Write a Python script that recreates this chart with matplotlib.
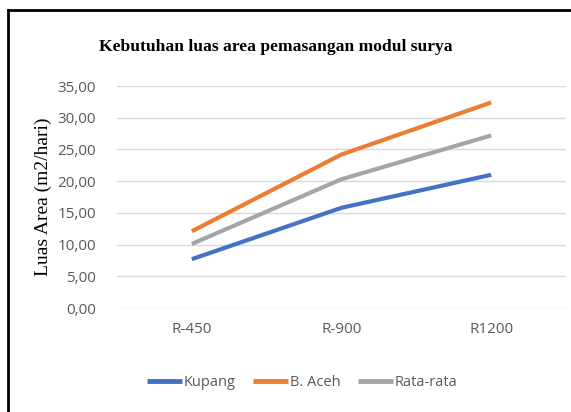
import matplotlib
matplotlib.use("Agg")
import matplotlib.pyplot as plt
from matplotlib.lines import Line2D

categories = ["R-450", "R-900", "R1200"]
kupang = [7.7, 15.8, 21.0]
aceh = [12.1, 24.2, 32.4]
rata = [10.1, 20.3, 27.2]
yticks = [0, 5, 10, 15, 20, 25, 30, 35]

sans = ["Liberation Sans Narrow", "Open Sans", "DejaVu Sans"]
serif = ["Liberation Serif", "DejaVu Serif"]

fig = plt.figure(figsize=(5.71, 4.12), dpi=100)
ax = fig.add_axes([117/571, 1-308/412, 449/571, 222/412])

x = range(len(categories))
ax.plot(x, kupang, color="#4472C4", lw=3, solid_capstyle="butt", label="Kupang")
ax.plot(x, aceh, color="#ED7D31", lw=3, solid_capstyle="butt", label="B. Aceh")
ax.plot(x, rata, color="#A5A5A5", lw=3, solid_capstyle="butt", label="Rata-rata")

ax.set_xlim(-0.5, 2.5)
ax.set_ylim(0, 35)
ax.set_yticks(yticks)
ax.set_yticklabels([f"{v:.2f}".replace(".", ",") for v in yticks],
                   family=sans, fontsize=11, color="#595959")
ax.set_xticks(list(x))
ax.set_xticklabels(categories, family=sans, fontsize=11, color="#595959")
ax.tick_params(length=0, pad=15, axis="y")
ax.tick_params(length=0, pad=10, axis="x")
ax.grid(axis="y", color="#d9d9d9", lw=1)
ax.set_axisbelow(True)
for s in ax.spines.values():
    s.set_visible(False)

ax.set_ylabel("Luas Area (m2/hari)", family=serif, fontsize=14, labelpad=4)
fig.text(276/571, 1-47/412, "Kebutuhan luas area pemasangan modul surya",
         family=serif, fontsize=12.6, fontweight="bold", ha="center", va="center")

leg = fig.legend(loc="center", bbox_to_anchor=(302/571, 1-383/412), ncol=3,
                 frameon=False, prop={"family": sans, "size": 10.5},
                 handlelength=2.4, handletextpad=0.1, columnspacing=1.2)
for line in leg.get_lines():
    line.set_linewidth(3.5)
for t in leg.get_texts():
    t.set_color("#595959")

# black frame on left and top
fig.add_artist(Line2D([8/571, 8/571], [0, 1-10/412], color="black", lw=2,
                      transform=fig.transFigure))
fig.add_artist(Line2D([8/571, 1], [1-10/412, 1-10/412], color="black", lw=2,
                      transform=fig.transFigure))

fig.savefig("out.png", dpi=100)
